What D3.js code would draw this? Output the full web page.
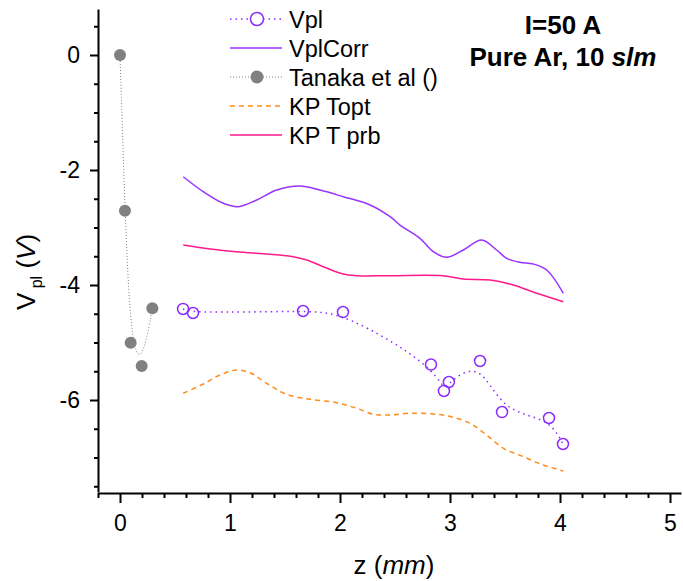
<!DOCTYPE html>
<html><head><meta charset="utf-8">
<script src="https://cdn.jsdelivr.net/npm/d3@7/dist/d3.min.js"></script>
<style>body{margin:0;background:#fff;} svg text{font-family:Arial,"Liberation Sans",sans-serif;fill:#000;}</style>
</head><body>
<svg id="chart" width="683" height="581"></svg>
<script>
// ---- data ----
const vplZ = [0.573, 0.664, 1.664, 2.027, 2.827, 2.945, 2.99, 3.273, 3.473, 3.9, 4.027];
const vplV = [-4.417, -4.487, -4.452, -4.470, -5.383, -5.843, -5.687, -5.322, -6.209, -6.313, -6.765];

const tanakaZ = [0, 0.045, 0.097, 0.197, 0.294];
const tanakaV = [0, -2.708, -5.003, -5.409, -4.405];

const corrZ = [0.575, 0.757, 0.939, 1.075, 1.243, 1.425, 1.636, 1.818, 2.03, 2.273, 2.455, 2.545, 2.727, 2.848, 2.97, 3.121, 3.288, 3.424, 3.515, 3.636, 3.757, 3.879, 4.03];
const corrV = [-2.117, -2.377, -2.579, -2.638, -2.522, -2.348, -2.278, -2.348, -2.464, -2.609, -2.812, -2.957, -3.188, -3.421, -3.518, -3.391, -3.217, -3.391, -3.536, -3.605, -3.635, -3.739, -4.144];

const prbZ = [0.575, 0.818, 1.061, 1.364, 1.575, 1.697, 1.848, 2.03, 2.152, 2.455, 2.939, 3.121, 3.364, 3.575, 3.788, 4.03];
const prbV = [-3.304, -3.374, -3.421, -3.466, -3.508, -3.565, -3.682, -3.809, -3.838, -3.838, -3.838, -3.896, -3.913, -4.0, -4.144, -4.29];

const toptZ = [0.575, 0.757, 0.909, 1.061, 1.182, 1.333, 1.515, 1.727, 1.97, 2.152, 2.303, 2.455, 2.636, 2.879, 3.03, 3.182, 3.333, 3.485, 3.667, 3.848, 4.03];
const toptV = [-5.883, -5.722, -5.565, -5.478, -5.525, -5.71, -5.901, -5.988, -6.047, -6.144, -6.247, -6.261, -6.231, -6.249, -6.301, -6.405, -6.609, -6.84, -6.986, -7.13, -7.235];

const xMajor = [0, 1, 2, 3, 4, 5];
const yMajor = [0, -2, -4, -6];
const legendLabels = ["Vpl", "VplCorr", "Tanaka et al ()", "KP Topt", "KP T prb"];

// ---- drawing ----
const svg = d3.select("#chart");
const x = d3.scaleLinear().domain([-0.2, 5.1]).range([98, 681]);
const y = d3.scaleLinear().domain([-7.6, 0.8]).range([492, 9]);

const zip = (a, b) => a.map((v, i) => [v, b[i]]);
const lineOf = curve => d3.line().x(d => x(d[0])).y(d => y(d[1])).curve(curve);

const C = {vpl: "#8a2cff", corr: "#9933ff", tan: "#808080", topt: "#ff8c1a", prb: "#ff1a8c"};

// series lines
svg.append("path").attr("d", lineOf(d3.curveCatmullRom)(zip(corrZ, corrV)))
  .attr("fill", "none").attr("stroke", C.corr).attr("stroke-width", 1.5);
svg.append("path").attr("d", lineOf(d3.curveCatmullRom)(zip(prbZ, prbV)))
  .attr("fill", "none").attr("stroke", C.prb).attr("stroke-width", 1.5);
svg.append("path").attr("d", lineOf(d3.curveCatmullRom)(zip(toptZ, toptV)))
  .attr("fill", "none").attr("stroke", C.topt).attr("stroke-width", 1.5).attr("stroke-dasharray", "5,4");
svg.append("path").attr("d", lineOf(d3.curveBasis)(zip(vplZ, vplV)))
  .attr("fill", "none").attr("stroke", C.vpl).attr("stroke-width", 1.5).attr("stroke-dasharray", "1.5,4");
svg.append("path").attr("d", lineOf(d3.curveBasis)(zip(tanakaZ, tanakaV)))
  .attr("fill", "none").attr("stroke", C.tan).attr("stroke-width", 1).attr("stroke-dasharray", "1,2");

// markers
svg.append("g").selectAll("circle").data(zip(vplZ, vplV)).join("circle")
  .attr("cx", d => x(d[0])).attr("cy", d => y(d[1])).attr("r", 5.5)
  .attr("fill", "none").attr("stroke", C.vpl).attr("stroke-width", 1.5);
svg.append("g").selectAll("circle").data(zip(tanakaZ, tanakaV)).join("circle")
  .attr("cx", d => x(d[0])).attr("cy", d => y(d[1])).attr("r", 6)
  .attr("fill", C.tan);

// axes
const xMinor = d3.range(-0.2, 5.1, 0.2).map(v => +v.toFixed(1)).filter(v => !xMajor.includes(v));
const yMinor = d3.range(-7.5, 0.8, 0.5).filter(v => !yMajor.includes(v));

const gx = svg.append("g").attr("transform", "translate(0,493)");
gx.call(d3.axisBottom(x).tickValues(xMinor).tickSize(5).tickSizeOuter(0).tickFormat(""));
gx.call(g => g.select(".domain").remove());
const gx2 = svg.append("g").attr("transform", "translate(0,493)");
gx2.call(d3.axisBottom(x).tickValues(xMajor).tickSize(10).tickSizeOuter(0).tickPadding(12).tickFormat(d => String(d)));
gx2.selectAll("text").attr("font-size", 23);
gx2.select(".domain").attr("stroke-width", 2);

const gy = svg.append("g").attr("transform", "translate(98,0)");
gy.call(d3.axisLeft(y).tickValues(yMinor).tickSize(4).tickSizeOuter(0).tickFormat(""));
gy.call(g => g.select(".domain").remove());
const gy2 = svg.append("g").attr("transform", "translate(98,0)");
gy2.call(d3.axisLeft(y).tickValues(yMajor).tickSize(8).tickSizeOuter(0).tickPadding(10).tickFormat(d => String(d)));
gy2.selectAll("text").attr("font-size", 23);
gy2.select(".domain").attr("stroke-width", 2);
svg.selectAll(".tick line").attr("stroke-width", 2);

// axis titles
svg.append("text").attr("x", 394).attr("y", 574).attr("text-anchor", "middle").attr("font-size", 26)
  .call(t => { t.append("tspan").text("z ("); t.append("tspan").attr("font-style", "italic").text("mm"); t.append("tspan").text(")"); });

const yt = svg.append("text").attr("transform", "translate(35,272) rotate(-90)").attr("text-anchor", "middle").attr("font-size", 26);
yt.append("tspan").text("V");
yt.append("tspan").attr("font-size", 16).attr("dy", 7).text(" pl");
yt.append("tspan").attr("dy", -7).text(" (");
yt.append("tspan").attr("font-style", "italic").text("V");
yt.append("tspan").text(")");

// legend
const lg = svg.append("g");
const rowY = i => 19 + i * 29;
const styles = [
  {stroke: C.vpl, dash: "1.5,4", w: 1.5, marker: "open"},
  {stroke: C.corr, dash: null, w: 1.5},
  {stroke: C.tan, dash: "1,2", w: 1, marker: "filled"},
  {stroke: C.topt, dash: "5,4", w: 1.5},
  {stroke: C.prb, dash: null, w: 1.5}
];
legendLabels.forEach((lab, i) => {
  const s = styles[i];
  lg.append("line").attr("x1", 230).attr("x2", 282).attr("y1", rowY(i)).attr("y2", rowY(i))
    .attr("stroke", s.stroke).attr("stroke-width", s.w).attr("stroke-dasharray", s.dash);
  if (s.marker === "open") lg.append("circle").attr("cx", 257).attr("cy", rowY(i)).attr("r", 6.5)
    .attr("fill", "#fff").attr("stroke", s.stroke).attr("stroke-width", 1.5);
  if (s.marker === "filled") lg.append("circle").attr("cx", 257).attr("cy", rowY(i)).attr("r", 6.5).attr("fill", s.stroke);
  lg.append("text").attr("x", 289).attr("y", rowY(i) + 8.5).attr("font-size", 23.5).text(lab);
});

// annotation
svg.append("text").attr("x", 563).attr("y", 34).attr("text-anchor", "middle").attr("font-size", 26).attr("font-weight", "bold").text("I=50 A");
svg.append("text").attr("x", 563).attr("y", 66).attr("text-anchor", "middle").attr("font-size", 26).attr("font-weight", "bold")
  .call(t => { t.append("tspan").text("Pure Ar, 10 "); t.append("tspan").attr("font-style", "italic").text("slm"); });
</script>
</body></html>
